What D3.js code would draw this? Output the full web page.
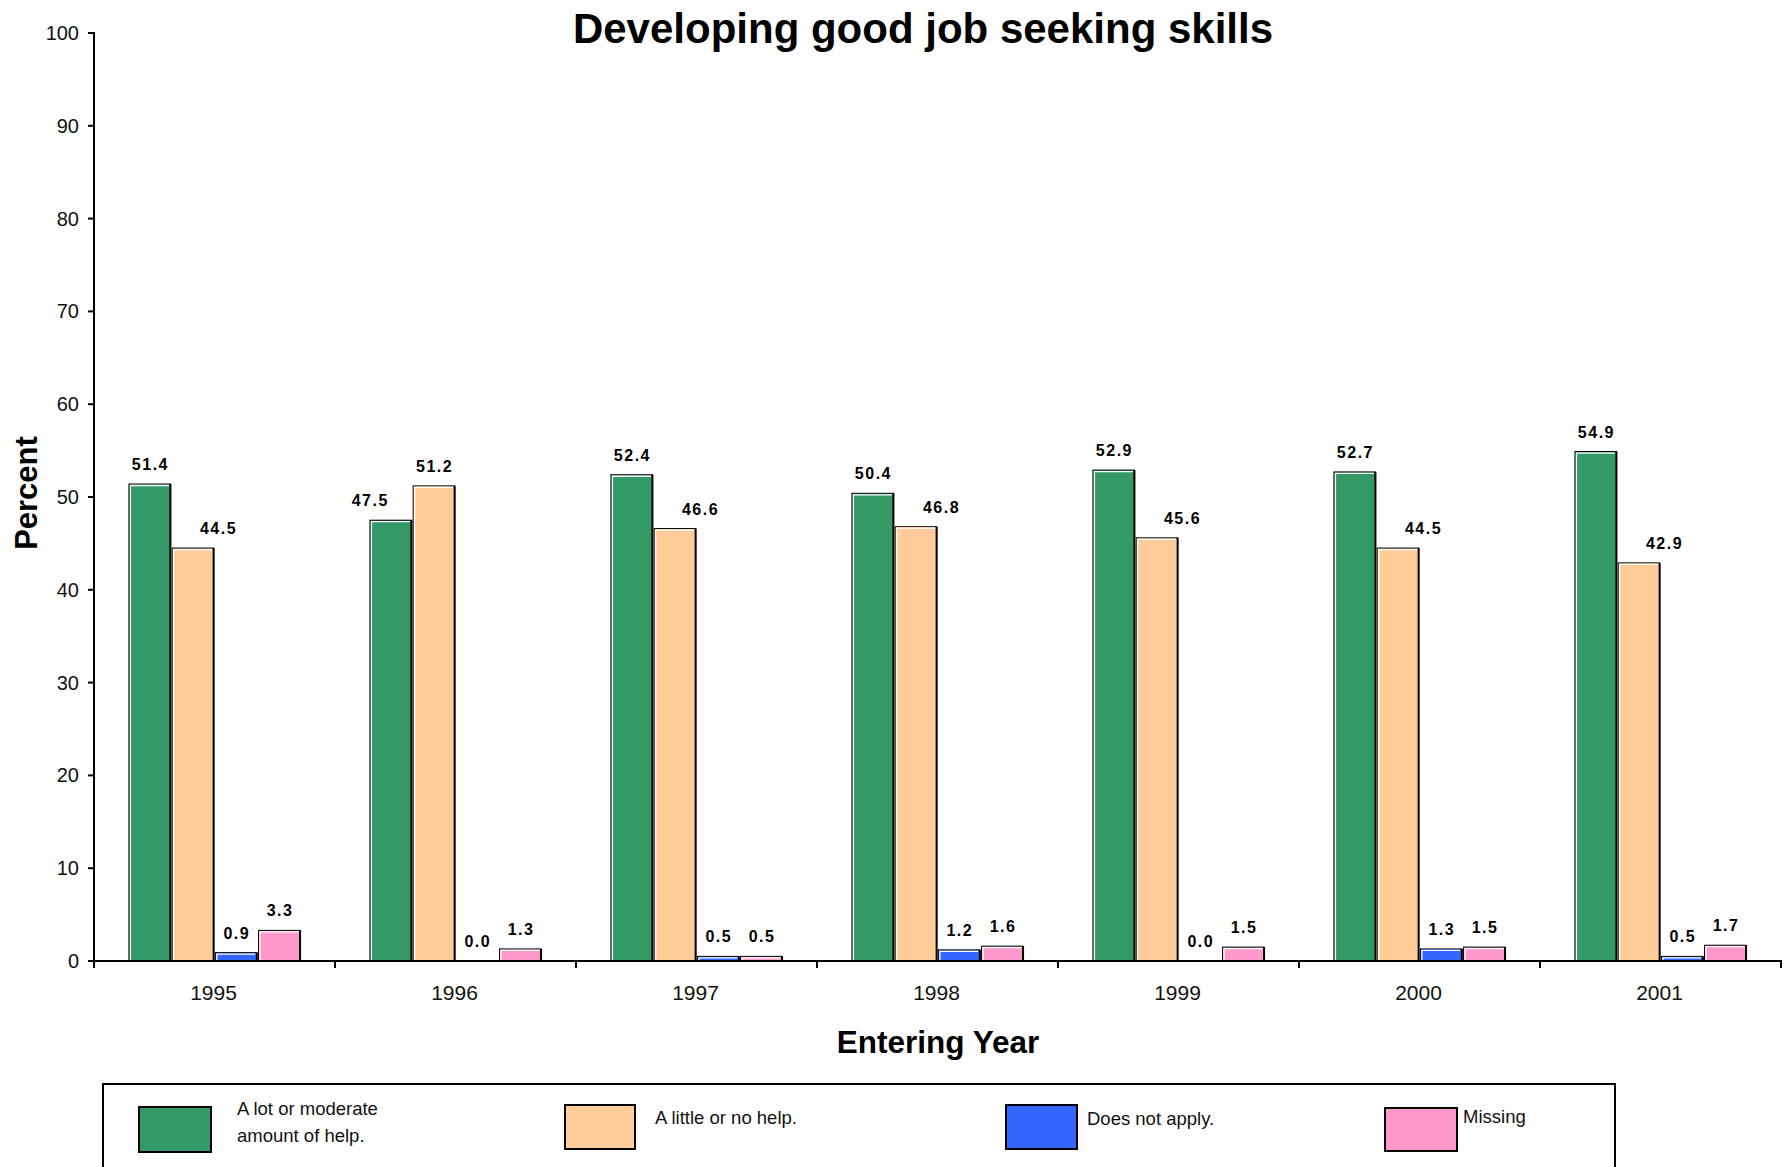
<!DOCTYPE html>
<html><head><meta charset="utf-8">
<script src="https://cdn.jsdelivr.net/npm/d3@7"></script>
<style>
html,body{margin:0;padding:0;background:#fff;}
svg{display:block;font-family:Arial,"Liberation Sans",sans-serif;}
</style></head>
<body>
<svg id="chart" width="1787" height="1167"></svg>
<script>
const years = ["1995","1996","1997","1998","1999","2000","2001"];
const seriesNames = ["A lot or moderate amount of help.","A little or no help.","Does not apply.","Missing"];
const lotModerate = [51.4, 47.5, 52.4, 50.4, 52.9, 52.7, 54.9];
const littleNone  = [44.5, 51.2, 46.6, 46.8, 45.6, 44.5, 42.9];
const doesNotApply = [0.9, 0.0, 0.5, 1.2, 0.0, 1.3, 0.5];
const missing     = [3.3, 1.3, 0.5, 1.6, 1.5, 1.5, 1.7];
const yTicks = [0,10,20,30,40,50,60,70,80,90,100];
const colors = ["#339966","#FFCC99","#3366FF","#FF99CC"];

const allSeries = [lotModerate, littleNone, doesNotApply, missing];
const svg = d3.select("#chart");
const L = 94, R = 1781, T = 33, B = 961;

const x0 = d3.scaleBand().domain(years).range([L, R]).paddingInner(0).paddingOuter(0);
const bw = x0.bandwidth();
const groupW = bw * 0.71;
const x1 = d3.scaleBand().domain(d3.range(4)).range([0, groupW]).paddingInner(0.04).paddingOuter(0);
const y = d3.scaleLinear().domain([0, 100]).range([B, T]);

// Title
svg.append("text").attr("x", 923).attr("y", 43).attr("text-anchor","middle")
  .attr("font-size", 42).attr("font-weight","bold").text("Developing good job seeking skills");

// Bars
const rows = [];
years.forEach((yr, i) => {
  allSeries.forEach((s, k) => rows.push({yr, i, k, v: s[i]}));
});
const gx = d => x0(d.yr) + (bw - groupW) / 2 + x1(d.k);
const bars = svg.append("g");
rows.forEach(d => {
  const xx = gx(d), w = x1.bandwidth(), yy = y(d.v), h = B - yy;
  if (h <= 0.3) return;
  bars.append("rect").attr("x", xx).attr("y", yy).attr("width", w).attr("height", h)
    .attr("fill", colors[d.k]).attr("stroke", "#000").attr("stroke-width", 1);
  bars.append("path").attr("d", `M${xx+1.5},${B} L${xx+1.5},${yy+1.5} L${xx+w-1.5},${yy+1.5}`)
    .attr("fill","none").attr("stroke","#fff").attr("stroke-width",1.3);
  bars.append("line").attr("x1", xx+w).attr("x2", xx+w).attr("y1", yy).attr("y2", B)
    .attr("stroke","#000").attr("stroke-width",2);
});

// Value labels (Excel-like nudge: shorter of first two bars moves its label away)
const labels = svg.append("g").attr("font-size", 16).attr("font-weight","bold")
  .attr("letter-spacing", "1.5px").attr("text-anchor","middle");
const nudge = x1.bandwidth() * 0.6;
rows.forEach(d => {
  let dx = 0;
  if (d.k === 1 && lotModerate[d.i] > littleNone[d.i]) dx = nudge;
  if (d.k === 0 && littleNone[d.i] > lotModerate[d.i]) dx = -nudge * 0.85;
  labels.append("text").attr("x", gx(d) + x1.bandwidth()/2 + dx + 0.75).attr("y", y(d.v) - 14)
    .text(d.v.toFixed(1));
});

// Y axis
const yAxis = svg.append("g");
yAxis.append("line").attr("x1", L).attr("x2", L).attr("y1", T - 1).attr("y2", B + 2)
  .attr("stroke","#000").attr("stroke-width",2);
yTicks.forEach(t => {
  yAxis.append("line").attr("x1", L - 6).attr("x2", L).attr("y1", y(t)).attr("y2", y(t))
    .attr("stroke","#000").attr("stroke-width",2);
  yAxis.append("text").attr("x", L - 15).attr("y", y(t) + 7).attr("text-anchor","end")
    .attr("font-size", 20).attr("fill","#111").text(t);
});

// X axis
const xAxis = svg.append("g");
xAxis.append("line").attr("x1", L - 6).attr("x2", R + 1).attr("y1", B).attr("y2", B)
  .attr("stroke","#000").attr("stroke-width",2);
const bounds = years.map(yr => x0(yr)).concat([R]);
bounds.forEach(bx => {
  xAxis.append("line").attr("x1", bx).attr("x2", bx).attr("y1", B).attr("y2", B + 7)
    .attr("stroke","#000").attr("stroke-width",2);
});
years.forEach(yr => {
  xAxis.append("text").attr("x", x0(yr) + bw/2 - 1).attr("y", 1000).attr("text-anchor","middle")
    .attr("font-size", 21).attr("fill","#111").text(yr);
});

// Axis titles
svg.append("text").attr("x", 938).attr("y", 1053).attr("text-anchor","middle")
  .attr("font-size", 31.5).attr("font-weight","bold").text("Entering Year");
svg.append("text").attr("transform","translate(37,493) rotate(-90)").attr("text-anchor","middle")
  .attr("font-size", 31).attr("font-weight","bold").text("Percent");

// Legend
const lg = svg.append("g");
lg.append("rect").attr("x", 103).attr("y", 1084).attr("width", 1512).attr("height", 120)
  .attr("fill","#fff").attr("stroke","#000").attr("stroke-width",2);
const legendItems = [
  {sx: 139, sy: 1107, w: 72, h: 45, tx: 237, lines: ["A lot or moderate","amount of help."], ty: 1115},
  {sx: 565, sy: 1105, w: 70, h: 44, tx: 655, lines: [seriesNames[1]], ty: 1124},
  {sx: 1006, sy: 1105, w: 71, h: 44, tx: 1087, lines: [seriesNames[2]], ty: 1125},
  {sx: 1385, sy: 1108, w: 72, h: 43, tx: 1463, lines: [seriesNames[3]], ty: 1123}
];
legendItems.forEach((it, k) => {
  lg.append("rect").attr("x", it.sx).attr("y", it.sy).attr("width", it.w).attr("height", it.h)
    .attr("fill", colors[k]).attr("stroke","#000").attr("stroke-width",2);
  const t = lg.append("text").attr("x", it.tx).attr("y", it.ty).attr("font-size", 18.5).attr("fill","#111");
  it.lines.forEach((ln, j) => t.append("tspan").attr("x", it.tx).attr("dy", j === 0 ? 0 : 27).text(ln));
});
</script>
</body></html>
